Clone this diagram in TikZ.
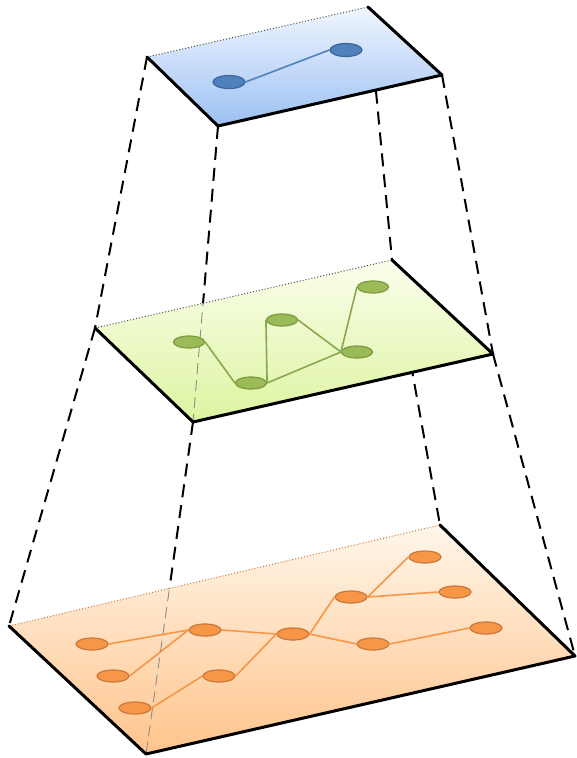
\documentclass[tikz,border=0pt]{standalone}
\usetikzlibrary{shapes.geometric}
\definecolor{bnode}{HTML}{4F81BD}
\definecolor{bnodeD}{HTML}{3A659C}
\definecolor{gnode}{HTML}{9BBB59}
\definecolor{gnodeD}{HTML}{7B9A3E}
\definecolor{onode}{HTML}{F79646}
\definecolor{onodeD}{HTML}{C9773A}
\definecolor{topA}{HTML}{F0F6FF}
\definecolor{topB}{HTML}{9CC0F2}
\definecolor{midA}{HTML}{FAFEEC}
\definecolor{midB}{HTML}{DDF4A0}
\definecolor{botA}{HTML}{FFF6EA}
\definecolor{botB}{HTML}{FFC48C}
\tikzset{
  proj/.style={draw=black, line width=2pt, dash pattern=on 13pt off 8pt},
  projfaint/.style={draw=black!45, line width=0.9pt, dash pattern=on 11pt off 6pt},
  frontedge/.style={draw=black, line width=3pt, line join=round, line cap=round},
  backedge/.style={draw=black!70, line width=1pt, dotted},
  nd/.style={ellipse, inner sep=0pt, minimum width=31pt, minimum height=12pt, line width=1.2pt},
  bnd/.style={nd, fill=bnode, draw=bnodeD, minimum width=32pt, minimum height=13pt},
  gnd/.style={nd, fill=gnode, draw=gnodeD},
  ond/.style={nd, fill=onode, draw=onodeD, minimum width=32pt},
  bedge/.style={draw=bnode, line width=1.6pt},
  gedge/.style={draw=gnode!90!black, line width=1.6pt},
  oedge/.style={draw=onode, line width=1.6pt},
}
\begin{document}
\begin{tikzpicture}[x=1pt,y=-1pt]
\useasboundingbox (0,0) rectangle (577,758);
% corners
\coordinate (tl) at (147,57);
\coordinate (tb) at (368,7);
\coordinate (tr) at (442,75);
\coordinate (tf) at (218,126);
\coordinate (ml) at (95,328);
\coordinate (mb) at (392,260);
\coordinate (mr) at (493,354);
\coordinate (mf) at (193,422);
\coordinate (bl) at (9,626);
\coordinate (bb) at (440,525);
\coordinate (br) at (575,656);
\coordinate (bf) at (146,754);

% projection lines middle -> bottom
\draw[proj] (ml) -- (bl);
\draw[proj] (mb) -- (bb);
\draw[proj] (mr) -- (br);
\draw[proj] (mf) -- (bf);

% bottom plane
\shade[top color=botA, bottom color=botB] (bl) -- (bb) -- (br) -- (bf) -- cycle;
\begin{scope}
  \clip (bl) -- (bb) -- (br) -- (bf) -- cycle;
  \draw[projfaint] (mf) -- (bf);
\end{scope}
\draw[backedge, draw=onodeD] (bl) -- (bb);
\draw[frontedge] (bb) -- (br) -- (bf) -- (bl);

% bottom edges and nodes
\node[ond] (oA) at (92,644) {};
\node[ond] (oB) at (205,630) {};
\node[ond] (oC) at (293,634) {};
\node[ond] (oD) at (373,644) {};
\node[ond] (oE) at (486,628) {};
\node[ond] (oF) at (351,597) {};
\node[ond] (oG) at (455,592) {};
\node[ond] (oH) at (425,557) {};
\node[ond] (oI) at (113,676) {};
\node[ond] (oJ) at (219,676) {};
\node[ond] (oK) at (135,708) {};
\draw[oedge] (oA.east) -- (oB.west);
\draw[oedge] (oI.east) -- (oB.west);
\draw[oedge] (oK.east) -- (oJ.west);
\draw[oedge] (oJ.east) -- (oC.west);
\draw[oedge] (oB.east) -- (oC.west);
\draw[oedge] (oC.east) -- (oF.west);
\draw[oedge] (oC.east) -- (oD.west);
\draw[oedge] (oD.east) -- (oE.west);
\draw[oedge] (oF.east) -- (oG.west);
\draw[oedge] (oF.east) -- (oH.west);

% projection lines top -> middle
\draw[proj] (tl) -- (ml);
\draw[proj] (tb) -- (mb);
\draw[proj] (tr) -- (mr);
\draw[proj] (tf) -- (mf);

% middle plane
\shade[top color=midA, bottom color=midB] (ml) -- (mb) -- (mr) -- (mf) -- cycle;
\begin{scope}
  \clip (ml) -- (mb) -- (mr) -- (mf) -- cycle;
  \draw[projfaint] (tf) -- (mf);
\end{scope}
\draw[backedge] (ml) -- (mb);
\draw[frontedge] (mb) -- (mr) -- (mf) -- (ml);

% middle nodes
\node[gnd] (g1) at (189,342) {};
\node[gnd] (g2) at (282,320) {};
\node[gnd] (g3) at (251,383) {};
\node[gnd] (g4) at (357,352) {};
\node[gnd] (g5) at (373,287) {};
\draw[gedge] (g1.east) -- (g3.west);
\draw[gedge] (g3.east) -- (g2.west);
\draw[gedge] (g2.east) -- (g4.west);
\draw[gedge] (g3.east) -- (g4.west);
\draw[gedge] (g4.west) -- (g5.west);

% top plane
\shade[top color=topA, bottom color=topB] (tl) -- (tb) -- (tr) -- (tf) -- cycle;
\draw[backedge] (tl) -- (tb);
\draw[frontedge] (tb) -- (tr) -- (tf) -- (tl);

% top nodes
\node[bnd] (b1) at (229,82) {};
\node[bnd] (b2) at (346,50) {};
\draw[bedge] (b1.east) -- (b2.west);
\end{tikzpicture}
\end{document}
